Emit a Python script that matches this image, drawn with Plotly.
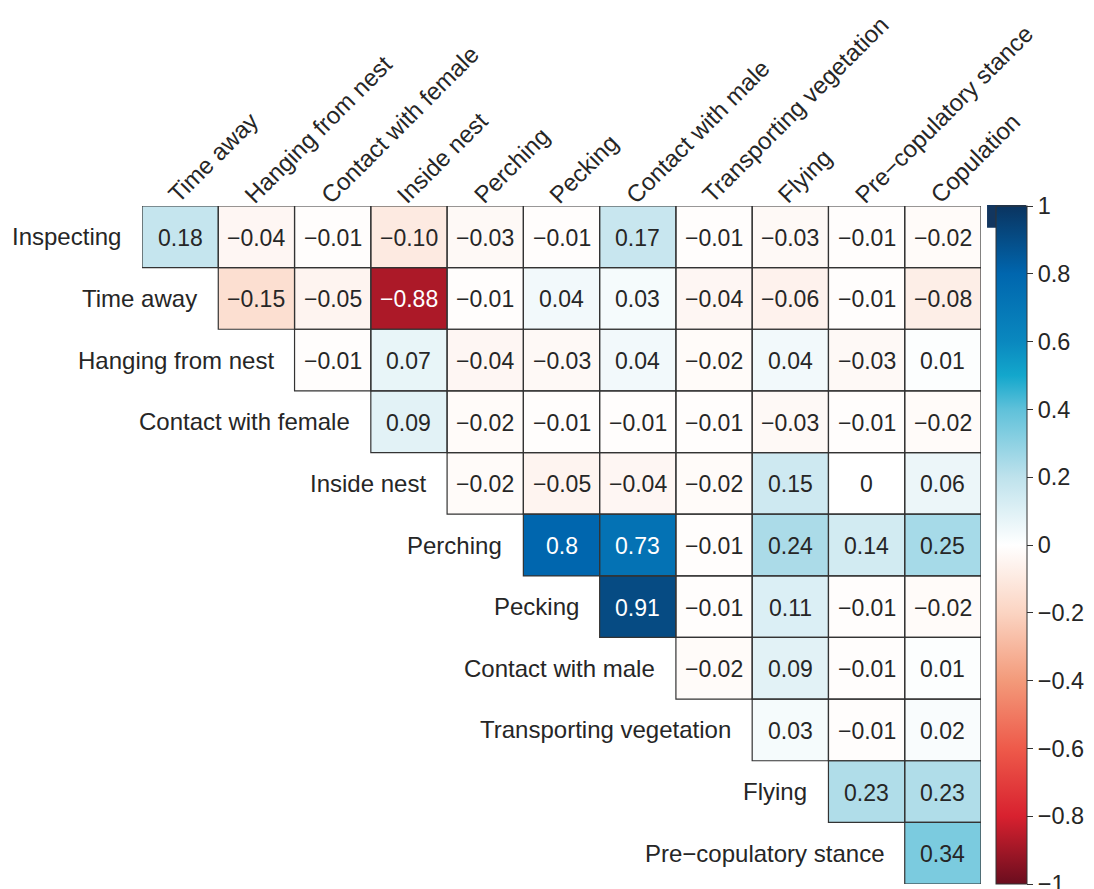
import plotly.graph_objects as go

# ---- data ----
row_labels = ["Inspecting", "Time away", "Hanging from nest", "Contact with female",
              "Inside nest", "Perching", "Pecking", "Contact with male",
              "Transporting vegetation", "Flying", "Pre\u2212copulatory stance"]
col_labels = ["Time away", "Hanging from nest", "Contact with female", "Inside nest",
              "Perching", "Pecking", "Contact with male", "Transporting vegetation",
              "Flying", "Pre\u2212copulatory stance", "Copulation"]

# upper-triangle correlations, row i starts at column i
r_inspecting = ["0.18", "-0.04", "-0.01", "-0.10", "-0.03", "-0.01", "0.17", "-0.01", "-0.03", "-0.01", "-0.02"]
r_time_away = ["-0.15", "-0.05", "-0.88", "-0.01", "0.04", "0.03", "-0.04", "-0.06", "-0.01", "-0.08"]
r_hanging = ["-0.01", "0.07", "-0.04", "-0.03", "0.04", "-0.02", "0.04", "-0.03", "0.01"]
r_contact_female = ["0.09", "-0.02", "-0.01", "-0.01", "-0.01", "-0.03", "-0.01", "-0.02"]
r_inside_nest = ["-0.02", "-0.05", "-0.04", "-0.02", "0.15", "0", "0.06"]
r_perching = ["0.8", "0.73", "-0.01", "0.24", "0.14", "0.25"]
r_pecking = ["0.91", "-0.01", "0.11", "-0.01", "-0.02"]
r_contact_male = ["-0.02", "0.09", "-0.01", "0.01"]
r_transporting = ["0.03", "-0.01", "0.02"]
r_flying = ["0.23", "0.23"]
r_precop = ["0.34"]

rows = [r_inspecting, r_time_away, r_hanging, r_contact_female, r_inside_nest,
        r_perching, r_pecking, r_contact_male, r_transporting, r_flying, r_precop]

cbar_vals = [1, 0.8, 0.6, 0.4, 0.2, 0, -0.2, -0.4, -0.6, -0.8, -1]

# ---- build matrix ----
n = len(col_labels)
z = [[None] * n for _ in range(n)]
tx, ty, tt, tc = [], [], [], []
for i, r in enumerate(rows):
    for k, s in enumerate(r):
        j = i + k
        v = float(s)
        z[i][j] = v
        tx.append(j)
        ty.append(i)
        tt.append(s.replace("-", "\u2212"))
        tc.append("white" if abs(v) > 0.6 else "#262626")

FONT = "Liberation Sans, Arial, Helvetica, sans-serif"
LAB = 24
CELL = 23
colorscale = [
    [0.0, "#6A0D1E"], [0.1, "#D8212F"], [0.2, "#EE5A4A"], [0.3, "#F39A7A"],
    [0.4, "#FBD4C2"], [0.5, "#FFFFFF"], [0.6, "#BEE2EC"], [0.7, "#5FC1DA"],
    [0.75, "#13A7CC"], [0.8, "#0A88BF"], [0.9, "#0066AE"], [1.0, "#0A3460"],
]

fig = go.Figure()
fig.add_trace(go.Heatmap(
    z=z, x=list(range(n)), y=list(range(n)),
    zmin=-1, zmax=1, colorscale=colorscale, hoverongaps=False,
    colorbar=dict(
        x=1.0179, xanchor="left", xpad=0, y=0.5, yanchor="middle", ypad=0,
        len=1.0, lenmode="fraction", thickness=31,
        outlinewidth=1, outlinecolor="#333333",
        tickvals=cbar_vals,
        ticktext=[("%g" % v).replace("-", "\u2212") for v in cbar_vals],
        ticks="outside", ticklen=6, tickcolor="#333333", tickwidth=1,
        ticklabeloverflow="allow",
        tickfont=dict(family=FONT, size=23.5, color="#262626"),
    ),
))

shapes = []
for x0, y0 in zip(tx, ty):
    shapes.append(dict(type="rect", xref="x", yref="y",
                       x0=x0 - 0.5, x1=x0 + 0.5, y0=y0 - 0.5, y1=y0 + 0.5,
                       line=dict(color="#333333", width=1.2), fillcolor="rgba(0,0,0,0)"))
# small dark block at top-left of colour bar (as in reference)
shapes.append(dict(type="rect", xref="paper", yref="paper",
                   x0=1.0072, x1=1.0536, y0=0.968, y1=1.0015,
                   line=dict(width=0), fillcolor="#12365F", layer="below"))

annotations = []
for x0, y0, s, c in zip(tx, ty, tt, tc):
    annotations.append(dict(x=x0, y=y0, xref="x", yref="y", text=s, showarrow=False,
                            xanchor="center", yanchor="middle", yshift=-1,
                            font=dict(family=FONT, size=CELL, color=c)))
for i, lab in enumerate(row_labels):
    annotations.append(dict(x=i - 0.5, y=i, xref="x", yref="y", text=lab,
                            showarrow=False, xanchor="right", yanchor="middle",
                            xshift=-19, font=dict(family=FONT, size=LAB, color="#262626")))
for j, lab in enumerate(col_labels):
    annotations.append(dict(x=j, y=-0.5, xref="x", yref="y", text=lab,
                            showarrow=False, xanchor="left", yanchor="bottom",
                            textangle=-45, xshift=-20, yshift=-5,
                            font=dict(family=FONT, size=LAB, color="#262626")))

# page body has an 8px margin, so figure is sized to fit the window from (8, 8)
fig.update_layout(
    width=1086, height=881,
    margin=dict(l=134, r=113, t=198, b=5),
    paper_bgcolor="white", plot_bgcolor="white",
    xaxis=dict(range=[-0.5, n - 0.5], visible=False, fixedrange=True),
    yaxis=dict(range=[n - 0.5, -0.5], visible=False, fixedrange=True),
    shapes=shapes, annotations=annotations, showlegend=False,
)

fig.write_html("out.html")
